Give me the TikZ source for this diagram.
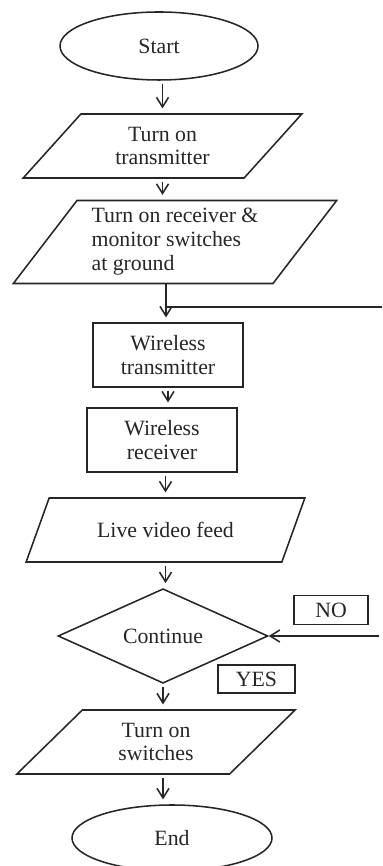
\documentclass[tikz,border=0pt]{standalone}
\usepackage{fontspec}
\setmainfont{Liberation Serif}
\usetikzlibrary{shapes.geometric,arrows.meta}

\begin{document}
\begin{tikzpicture}[line width=1.1pt,color=black!85,font=\fontsize{15.5}{17}\selectfont]

                \useasboundingbox (0,0) rectangle (9.55,21.65);

                \tikzset{terminal/.style = {shape=ellipse,draw,minimum width=4.95cm,minimum height=1.7cm,inner sep=0pt}}
                \tikzset{io/.style = {shape=trapezium,draw,trapezium stretches=true,trapezium left angle=49,trapezium right angle=131,minimum width=6.975cm,minimum height=1.6cm,inner sep=0pt,align=center}}
                \tikzset{process/.style = {shape=rectangle,draw,minimum width=3.75cm,minimum height=1.6cm,align=center}}
                \tikzset{decision/.style = {shape=diamond,draw,minimum width=5.25cm,minimum height=2.2cm,inner sep=0pt}}
                \tikzset{tag/.style = {shape=rectangle,draw,minimum height=0.72cm,inner sep=0pt}}
                \tikzset{edge/.style = {-{Straight Barb[length=2.4mm,width=3mm]},shorten <=0.8mm,shorten >=1.2mm}}

                \node[terminal] (start) at (3.975, 20.5) {Start};
                \node[io] (tx) at (4.0625, 18.0) {Turn on\\transmitter};
                \node[io,trapezium left angle=51,trapezium right angle=129,minimum width=8.1cm,minimum height=2.075cm,align=left] (rx) at (4.375, 15.6) {Turn on receiver \&\\monitor switches\\at ground};
                \node[process] (wtx) at (4.2, 12.775) {Wireless\\transmitter};
                \node[process] (wrx) at (4.05, 10.65) {Wireless\\receiver};
                \node[io] (live) at (4.1375, 8.4) {Live video feed};
                \node[decision] (cont) at (4.075, 5.75) {Continue};
                \node[io] (sw) at (3.9, 3.1) {Turn on\\switches};
                \node[terminal,minimum width=5cm,minimum height=1.65cm] (end) at (4.3, 0.7) {End};

                \node[tag,minimum width=1.85cm] (no) at (8.275, 6.4) {NO};
                \node[tag,minimum width=1.925cm,minimum height=0.7cm] (yes) at (6.4125, 4.675) {YES};

                \coordinate (join) at (4.15, 13.975);
                \coordinate (loop) at (9.55, 13.975);
                \coordinate (back) at (9.55, 5.75);

                \draw[edge] (tx.north |- start.south) to (tx.north);
                \draw[edge] (tx.south) to (tx.south |- rx.north);

                \draw (join |- rx.south) to (join);
                \draw (join) to (loop);
                \draw[edge,shorten <=0pt] (join) to (join |- wtx.north);

                \draw[edge] (wtx.south) to (wtx.south |- wrx.north);
                \draw[edge] (live.north |- wrx.south) to (live.north);
                \draw[edge] (live.south) to (live.south |- cont.north);

                \draw[edge,shorten >=0pt] (back) to (cont.east);
                \draw[edge] (cont.south) to (cont.south |- sw.north);
                \draw[edge] (cont.south |- sw.south) to (cont.south |- end.north);
            \end{tikzpicture}
\end{document}
